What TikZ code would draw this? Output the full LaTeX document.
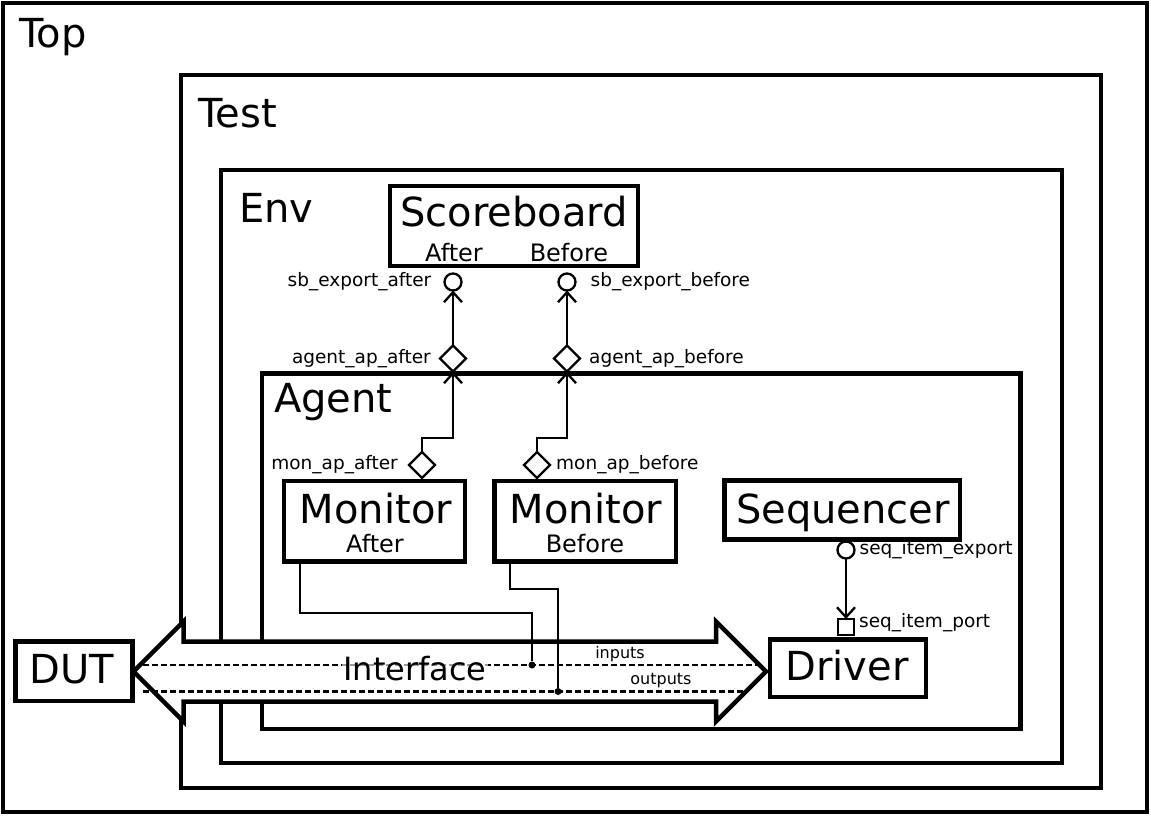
\documentclass[tikz,border=0pt]{standalone}
\usepackage{fontspec}
\setmainfont{DejaVu Sans}
\usetikzlibrary{shapes.geometric, arrows.meta, positioning, calc}

\begin{document}
\begin{tikzpicture}[
    x=1pt, y=-1pt,
    >={Straight Barb[length=10pt, width=18pt]},
    frame/.style={draw, line width=4.5pt, inner sep=0pt, outer sep=0pt},
    block/.style={draw, line width=4.5pt, inner sep=0pt, outer sep=0pt},
    big/.style={inner sep=0pt, font=\fontsize{40}{42}\selectfont},
    sub/.style={inner sep=0pt, font=\fontsize{24}{26}\selectfont},
    plbl/.style={inner sep=0pt, font=\fontsize{18.5}{20}\selectfont},
    sig/.style={inner sep=0pt, font=\fontsize{16}{18}\selectfont},
    export/.style={draw, circle, line width=2.3pt, minimum size=17pt, inner sep=0pt, outer sep=0pt},
    ap/.style={draw, diamond, line width=2.3pt, minimum width=26pt, minimum height=26pt, inner sep=0pt, outer sep=0pt},
    seqp/.style={draw, rectangle, line width=2.3pt, minimum size=16pt, inner sep=0pt, outer sep=0pt},
    link/.style={->, line width=2.3pt},
    wire/.style={line width=2.3pt},
    bus/.style={dash pattern=on 6pt off 3pt, line width=2.3pt},
    dot/.style={circle, fill, minimum size=7pt, inner sep=0pt}
  ]
    \fill[white] (0,0) rectangle (1151,818);
    \useasboundingbox (0,0) rectangle (1151,818);

    \node[frame, minimum width=1144, minimum height=809] (top) at (575,407.5) {};
    \node[frame, minimum width=920, minimum height=713] (test) at (641,431.5) {};
    \node[frame, minimum width=841, minimum height=593] (env) at (641.5,466.5) {};
    \node[frame, minimum width=758.5, minimum height=355.5] (agent) at (641,551) {};

    \node[block, minimum width=248, minimum height=80] (sb) at (514,226) {};
    \node[block, minimum width=181, minimum height=80.5] (monafter) at (374.5,521) {};
    \node[block, minimum width=181.5, minimum height=80.5] (monbefore) at (585,521) {};
    \node[block, minimum width=235.5, minimum height=59] (seq) at (842,510) {};
    \node[block, minimum width=156, minimum height=57.5] (drv) at (848,668) {};
    \node[block, minimum width=117, minimum height=59.5] (dut) at (74,671) {};

    \node[big, anchor=base west] (toplbl) at (19,48) {Top};
    \node[big, anchor=base west] (testlbl) at (198,128) {Test};
    \node[big, anchor=base west] (envlbl) at (239,223) {Env};
    \node[big, anchor=base west] (agentlbl) at (274,412) {Agent};
    \node[big, anchor=base] (sbtitle) at (514,227) {Scoreboard};
    \node[sub, anchor=base] (sbafter) at (454,262) {After};
    \node[sub, anchor=base] (sbbefore) at (569,262) {Before};
    \node[big, anchor=base] (monatitle) at (376,523) {Monitor};
    \node[sub, anchor=base] (monasub) at (375,552) {After};
    \node[big, anchor=base] (monbtitle) at (586,523) {Monitor};
    \node[sub, anchor=base] (monbsub) at (585,552) {Before};
    \node[big, anchor=base] (seqtitle) at (843,523) {Sequencer};
    \node[big, anchor=base] (drvtitle) at (847,680) {Driver};
    \node[big, anchor=base] (duttitle) at (72,683) {DUT};

    \draw[line width=4.5pt, fill=white] (133.5,671.5) -- (183.5,621.5) -- (183.5,641.5) -- (716,641.5)
      -- (716,621.5) -- (766,671.5) -- (716,721.5) -- (716,701.5) -- (183.5,701.5) -- (183.5,721.5) -- cycle;

    \coordinate (inl) at (143,665);
    \coordinate (inr) at (763,665);
    \coordinate (outl) at (143,691.5);
    \coordinate (outr) at (743,691.5);
    \draw[bus] (inl) -- (inr);
    \draw[bus] (outl) -- (outr);
    \node[inner sep=1pt, fill=white, fill opacity=0.6, text opacity=1, anchor=base,
      font=\fontsize{32}{34}\selectfont] (iface) at (415,680) {Interface};
    \node[sig, anchor=base] (inlbl) at (620,658) {inputs};
    \node[sig, anchor=base] (outlbl) at (661,684) {outputs};

    \node[dot] (inpdot) at (532,665) {};
    \node[dot] (outdot) at (558,691.5) {};
    \draw[wire] ($(monafter.south west)+(16,0)$) -- ++(0,52) -| (inpdot);
    \draw[wire] ($(monbefore.south west)+(16,0)$) -- ++(0,28) -| (outdot);

    \node[export] (sbexpa) at (453,282) {};
    \node[export] (sbexpb) at (567,282) {};
    \node[ap] (agapa) at (453,358.5) {};
    \node[ap] (agapb) at (567,358.5) {};
    \node[ap] (monapa) at (422,465) {};
    \node[ap] (monapb) at (537,465) {};
    \node[export] (seqexp) at (846,550) {};
    \node[seqp] (seqport) at (846,627) {};

    \node[plbl, left=13pt of sbexpa] (sbexpalbl) {sb\_export\_after};
    \node[plbl, right=15pt of sbexpb] (sbexpblbl) {sb\_export\_before};
    \node[plbl, left=9pt of agapa] (agapalbl) {agent\_ap\_after};
    \node[plbl, right=9pt of agapb] (agapblbl) {agent\_ap\_before};
    \node[plbl, left=11pt of monapa] (monapalbl) {mon\_ap\_after};
    \node[plbl, right=6pt of monapb] (monapblbl) {mon\_ap\_before};
    \node[plbl, right=5pt of seqexp] (seqexplbl) {seq\_item\_export};
    \node[plbl, right=5pt of seqport, yshift=4pt] (seqportlbl) {seq\_item\_port};

    \draw[link] (agapa.north) -- (sbexpa.south);
    \draw[link] (agapb.north) -- (sbexpb.south);
    \draw[link] (monapa.north) -- ++(0,-14) -| (agapa.south);
    \draw[link] (monapb.north) -- ++(0,-14) -| (agapb.south);
    \draw[link] (seqexp.south) -- (seqport.north);
\end{tikzpicture}
\end{document}
